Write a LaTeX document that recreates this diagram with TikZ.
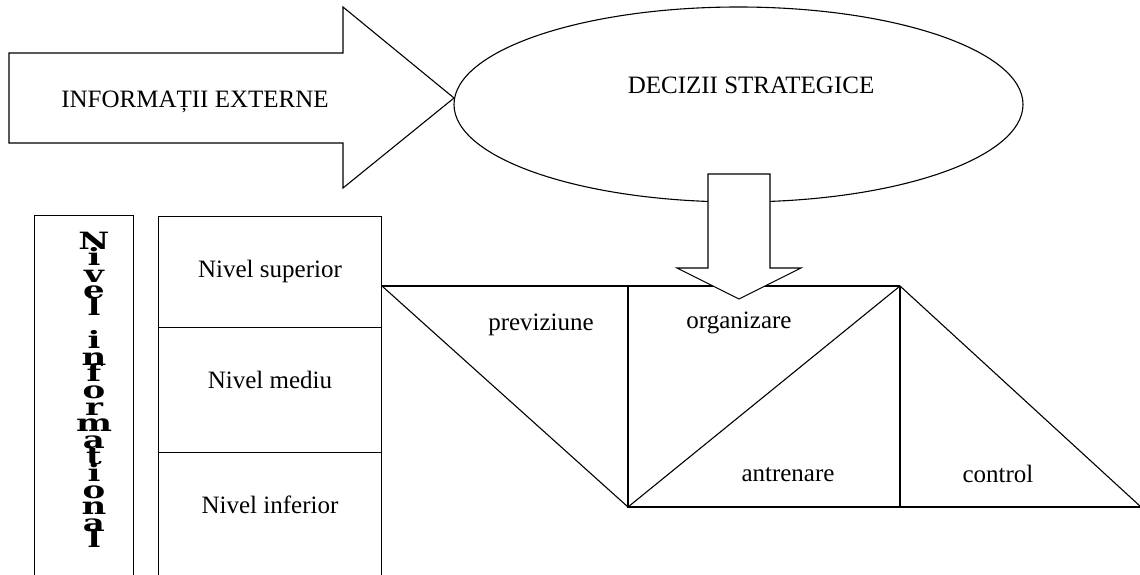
\documentclass[tikz,border=0pt]{standalone}
\usepackage{fontspec}
\setmainfont{Liberation Serif}
\newfontfamily\slabfont{DejaVu Serif}
\usetikzlibrary{shapes.geometric}
\begin{document}
\begin{tikzpicture}[x=1pt, y=-1pt, line width=1.1pt,
  lbl/.style={font=\fontsize{25}{25}\selectfont, inner sep=0, anchor=base},
  vletter/.style={font=\slabfont\bfseries\fontsize{34}{34}\selectfont, inner sep=0, anchor=base},
  cell/.style={draw, rectangle, inner sep=0, anchor=north west},
  blockarrow/.style={draw, fill=white, line join=miter}]
\useasboundingbox (0,0) rectangle (1140,575);
\fill[white] (0,0) rectangle (1140,575);

% strategic decisions
\node[draw, ellipse, minimum width=569pt, minimum height=195pt, inner sep=0] (dec) at (738.5,104.5) {};
\node[lbl] (dectext) at (751,94) {DECIZII STRATEGICE};

% management functions
\coordinate (tl) at (382,286);
\coordinate (tm) at (628,286);
\coordinate (tr) at (900,286);
\coordinate (bl) at (628,507);
\coordinate (bm) at (900,507);
\coordinate (br) at (1141,507);
\draw (tl) -- (tr);
\draw (tl) -- (bl) -- (tr);
\draw (tm) -- (bl) -- (br);
\draw (tr) -- (bm);
\draw (tr) -- (br);
\node[lbl] (prev) at (541,330) {previziune};
\node[lbl] (org)  at (739,328) {organizare};
\node[lbl] (antr) at (788,481) {antrenare};
\node[lbl] (ctrl) at (998,482) {control};

% information levels
\node[cell, minimum width=99pt, minimum height=365pt] (infobox) at (34,215) {};
\node[cell, minimum width=223pt, minimum height=111pt] (sup) at (158,216) {};
\node[cell, minimum width=223pt, minimum height=125pt] (med) at (158,327) {};
\node[cell, minimum width=223pt, minimum height=128pt] (inf) at (158,452) {};
\node[lbl] (suptext) at (270,277) {Nivel superior};
\node[lbl] (medtext) at (270,388) {Nivel mediu};
\node[lbl] (inftext) at (270,513) {Nivel inferior};

% vertical stacked title
\foreach \ch [count=\k from 0] in {N,i,v,e,l,{},i,n,f,o,r,m,a,t,i,o,n,a,l}
  \node[vletter] (vl\k) at (94,249+\k*16.6) {\scalebox{1}[0.7]{\ch}};

% external information arrow
\draw[blockarrow] (9,53) -- (343,53) -- (343,7) -- (454,98) -- (343,188) -- (343,143) -- (9,143) -- cycle;
\node[lbl] (ext) at (195,108) {INFORMAȚII EXTERNE};

% downward arrow from decisions
\draw[blockarrow] (708,174) -- (770,174) -- (770,268) -- (801,268) -- (739,299) -- (677,268) -- (708,268) -- cycle;
\end{tikzpicture}
\end{document}
